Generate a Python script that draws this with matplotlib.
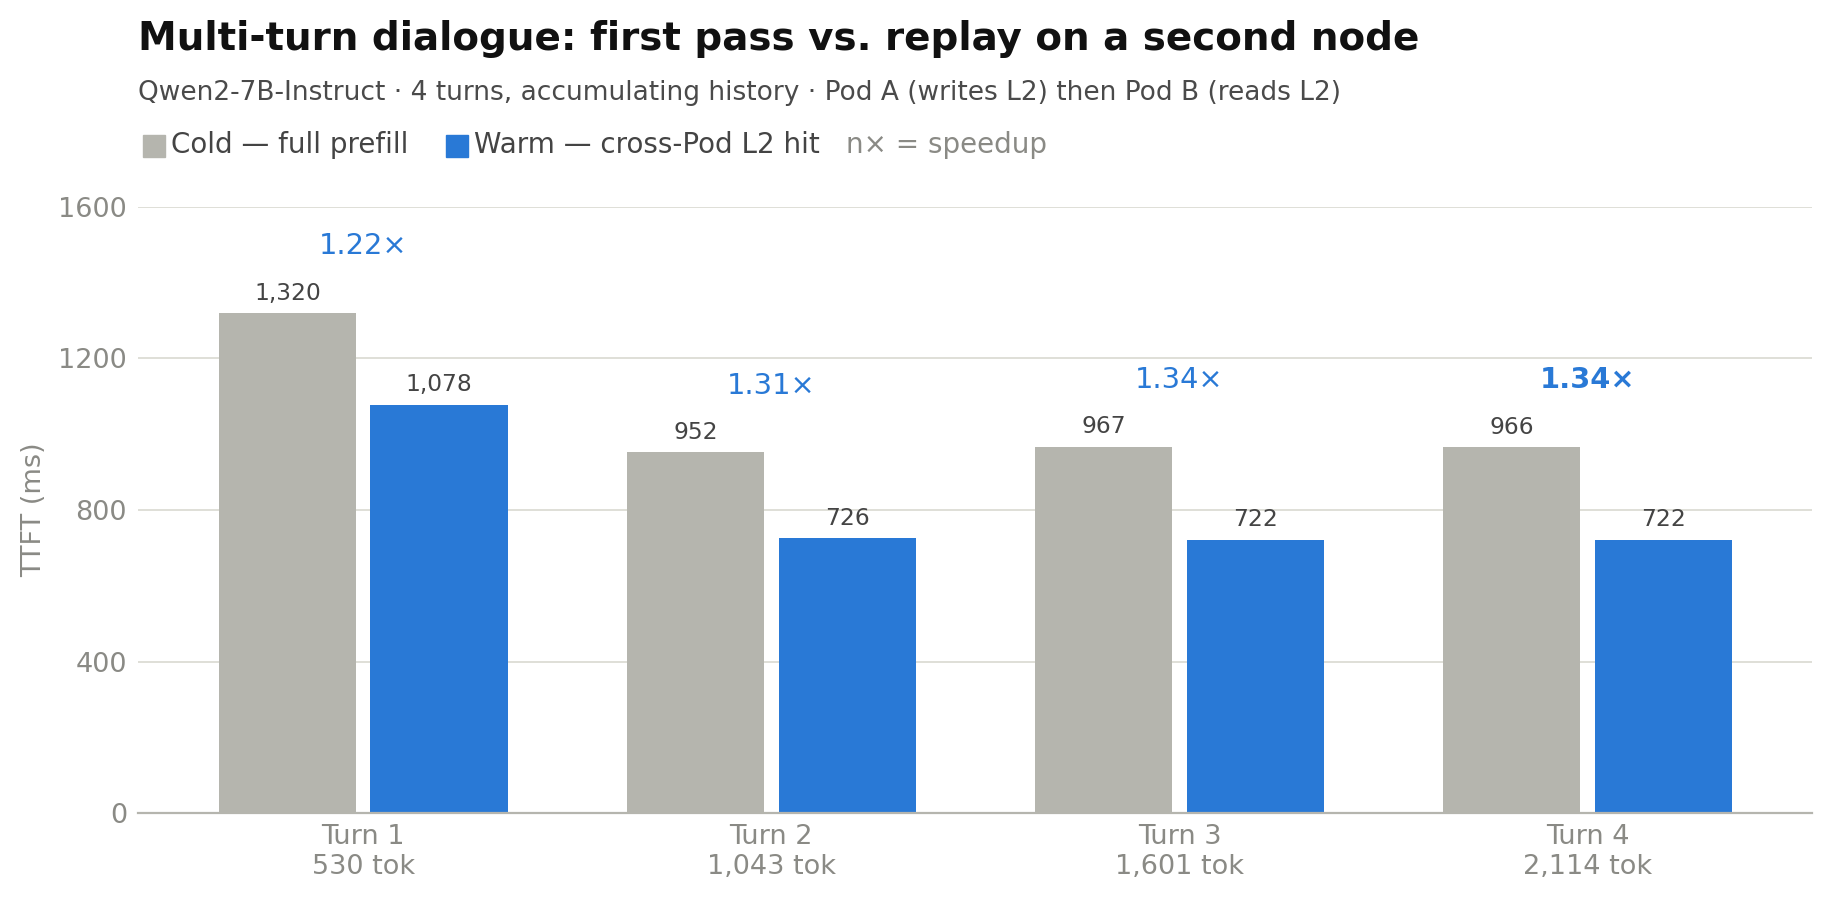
import numpy as np
import matplotlib
matplotlib.use("Agg")
from matplotlib import pyplot as plt
from matplotlib.patches import Rectangle

# data
turns = ["Turn 1", "Turn 2", "Turn 3", "Turn 4"]
tokens = ["530 tok", "1,043 tok", "1,601 tok", "2,114 tok"]
cold_ms = [1320, 952, 967, 966]
warm_ms = [1078, 726, 722, 722]
speedup = ["1.22×", "1.31×", "1.34×", "1.34×"]
best_turn = 3  # bold speedup label
yticks = [0, 400, 800, 1200, 1600]

COLD = "#b5b5ae"
WARM = "#2979d6"
TICK = "#8a8a85"
TXT = "#444444"

plt.rcParams['font.family'] = ['DejaVu Sans']

W, H = 1834, 901
fig = plt.figure(figsize=(W / 100, H / 100), dpi=100)
ax = fig.add_axes([138 / W, (H - 813) / H, (1812 - 138) / W, (813 - 207) / H])

x = np.arange(len(turns))
bw = 0.337
off = 0.186
ax.bar(x - off, cold_ms, bw, color=COLD, zorder=2)
ax.bar(x + off, warm_ms, bw, color=WARM, zorder=2)

# value labels above bars
for xi, c, w in zip(x, cold_ms, warm_ms):
    ax.annotate(f"{c:,}", (xi - off, c), xytext=(0, 6), textcoords="offset points",
                ha="center", va="bottom", fontsize=16.8, color=TXT)
    ax.annotate(f"{w:,}", (xi + off, w), xytext=(0, 6), textcoords="offset points",
                ha="center", va="bottom", fontsize=16.8, color=TXT)

# speedup labels over each group
for i, (xi, c, s) in enumerate(zip(x, cold_ms, speedup)):
    ax.text(xi, c + 176, s, ha="center", va="center", fontsize=20.8, color=WARM,
            fontweight="bold" if i == best_turn else "normal")

ax.set_xlim(-0.552, 3.55)
ax.set_ylim(0, 1600)
ax.set_yticks(yticks)
ax.set_yticklabels([str(v) for v in yticks])
ax.set_xticks(x)
ax.set_xticklabels([f"{t}\n{k}" for t, k in zip(turns, tokens)])
ax.tick_params(axis="both", length=0, labelsize=19.5, labelcolor=TICK)
ax.tick_params(axis="y", pad=8)
ax.tick_params(axis="x", pad=8)
ax.set_ylabel("TTFT (ms)", fontsize=19.5, color=TICK)
ax.yaxis.set_label_coords(-(138 - 47) / (1812 - 138), 0.5)

ax.grid(axis="y", color="#dcdcd4", linewidth=1.3, zorder=0)
ax.set_axisbelow(True)
for s in ["top", "right", "left"]:
    ax.spines[s].set_visible(False)
ax.spines["bottom"].set_color(COLD)
ax.spines["bottom"].set_linewidth(1.6)
ax.spines["bottom"].set_zorder(3)

# title block
fig.text(138 / W, 1 - 50 / H, "Multi-turn dialogue: first pass vs. replay on a second node",
         fontsize=28, fontweight="bold", color="#111111", va="baseline")
fig.text(138 / W, 1 - 100 / H,
         "Qwen2-7B-Instruct · 4 turns, accumulating history · Pod A (writes L2) then Pod B (reads L2)",
         fontsize=19, color="#4a4a4a", va="baseline")

# legend row
ly = 1 - 145 / H
sq = 22
for px, col, label in [(143, COLD, "Cold — full prefill"), (446, WARM, "Warm — cross-Pod L2 hit")]:
    fig.patches.append(Rectangle((px / W, (H - 157) / H), sq / W, sq / H,
                                 transform=fig.transFigure, color=col))
    fig.text((px + sq + 6) / W, ly, label, fontsize=20, color=TXT, va="center")
fig.text(846 / W, ly, "n× = speedup", fontsize=20, color=TICK, va="center")

fig.savefig("out.png", dpi=100)
